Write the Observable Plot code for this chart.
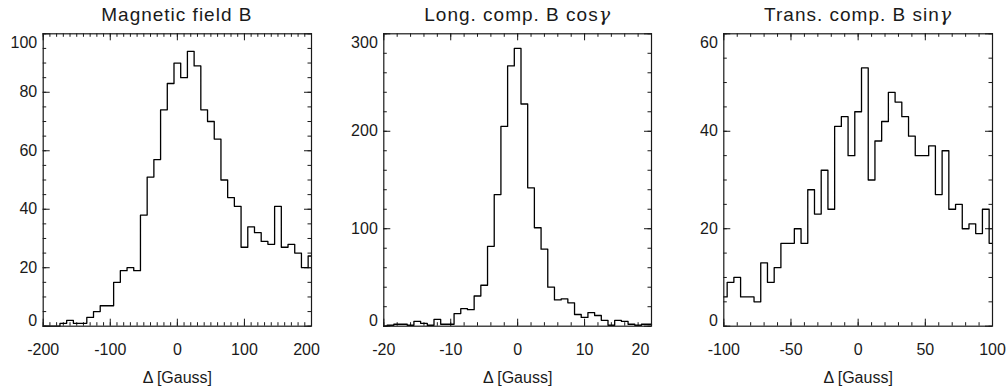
<!DOCTYPE html>
<html><head><meta charset="utf-8">
<script src="https://cdn.jsdelivr.net/npm/d3@7"></script>
<script src="https://cdn.jsdelivr.net/npm/@observablehq/plot@0.6"></script>
<style>
body{margin:0;background:#fff;}
#wrap{position:relative;width:1008px;height:389px;overflow:hidden;font-family:"Liberation Sans",Arial,Helvetica,sans-serif;color:#1a1a1a;}
.panel{position:absolute;top:0;}
.title{position:absolute;top:5px;font-size:19px;line-height:1;text-align:center;letter-spacing:1px;white-space:nowrap;}
</style></head><body><div id="wrap"></div>
<script>
// ---- Data ----
const xLabel = "Δ [Gauss]";

// Panel 1: Magnetic field B (bins of 10 G, centered on multiples of 10)
const bTitle = "Magnetic field B";
const bCenters = d3.range(-200, 201, 10);
const bCounts = [0,0,0,1,2,1,1,3,5,7,7,15,19,20,19,38,51,57,74,83,90,85,94,89,74,70,64,50,44,41,27,34,32,29,28,41,27,28,25,20,24];
const bXTicks = [-200,-100,0,100,200];
const bYTicks = [0,20,40,60,80,100];

// Panel 2: Longitudinal component (bins of 1 G)
const lTitle = "Long. comp. B cos";
const lCenters = d3.range(-20, 21, 1);
const lCounts = [0,1,2,2,1,5,3,1,7,2,2,13,18,17,31,42,82,135,205,267,285,228,142,101,79,40,27,28,24,12,9,14,11,6,1,6,5,2,1,2,2];
const lXTicks = [-20,-10,0,10,20];
const lYTicks = [0,100,200,300];

// Panel 3: Transverse component (bins of 5 G)
const tTitle = "Trans. comp. B sin";
const tCenters = d3.range(-100, 101, 5);
const tCounts = [6,9,10,6,6,5,13,9,12,17,17,20,17,28,23,32,24,41,43,35,44,53,30,38,42,48,46,43,39,35,35,37,27,36,24,25,20,21,19,24,17];
const tXTicks = [-100,-50,0,50,100];
const tYTicks = [0,20,40,60];

// ---- Layout ----
const W = 336, Hh = 389, MT = 33.3, MB = 63.3;
const ink = "#1a1a1a";
const font = '"Liberation Sans",Arial,Helvetica,sans-serif';

const panels = [
  {title: bTitle, gamma: false, centers: bCenters, counts: bCounts, xTicks: bXTicks, yTicks: bYTicks,
   xMinorStep: 10, yMinorStep: 5, left: 0, ml: 42.7, mr: 25, lastDx: -5},
  {title: lTitle, gamma: true, centers: lCenters, counts: lCounts, xTicks: lXTicks, yTicks: lYTicks,
   xMinorStep: 2, yMinorStep: 20, left: 336, ml: 47.3, mr: 21, lastDx: -11},
  {title: tTitle, gamma: true, centers: tCenters, counts: tCounts, xTicks: tXTicks, yTicks: tYTicks,
   xMinorStep: 10, yMinorStep: 5, left: 672, ml: 51.3, mr: 16, lastDx: 0}
];

const wrap = document.getElementById("wrap");
const fmt = d => String(d);

for (const p of panels) {
  const xd = [p.xTicks[0], p.xTicks[p.xTicks.length - 1]];
  const yd = [p.yTicks[0], p.yTicks[p.yTicks.length - 1]];
  const fh = Hh - MT - MB;
  const fw = W - p.ml - p.mr;
  const xMinor = d3.range(xd[0], xd[1] + 1e-9, p.xMinorStep);
  const yMinor = d3.range(yd[0], yd[1] + 1e-9, p.yMinorStep);
  const table = p.centers.map((c, i) => ({c, n: p.counts[i]}));
  const minorLen = 3.5, majorLen = 7;
  const axStyle = {tickSize: 0, fontSize: 16, label: null, fill: ink, tickFormat: fmt};
  const chart = Plot.plot({
    width: W, height: Hh,
    marginTop: MT, marginBottom: MB, marginLeft: p.ml, marginRight: p.mr,
    x: {domain: xd},
    y: {domain: yd},
    style: {fontFamily: font, color: ink, background: "transparent", overflow: "visible"},
    marks: [
      // inward ticks on all four sides
      Plot.tickX(xMinor, {x: d => d, insetTop: fh - minorLen, stroke: ink}),
      Plot.tickX(xMinor, {x: d => d, insetBottom: fh - minorLen, stroke: ink}),
      Plot.tickX(p.xTicks, {x: d => d, insetTop: fh - majorLen, stroke: ink}),
      Plot.tickX(p.xTicks, {x: d => d, insetBottom: fh - majorLen, stroke: ink}),
      Plot.tickY(yMinor, {y: d => d, insetRight: fw - minorLen, stroke: ink}),
      Plot.tickY(yMinor, {y: d => d, insetLeft: fw - minorLen, stroke: ink}),
      Plot.tickY(p.yTicks, {y: d => d, insetRight: fw - majorLen, stroke: ink}),
      Plot.tickY(p.yTicks, {y: d => d, insetLeft: fw - majorLen, stroke: ink}),
      // histogram outline
      Plot.line(table, {x: "c", y: "n", curve: "step", stroke: "#000", strokeWidth: 1.3}),
      Plot.frame({stroke: ink, strokeWidth: 1.2}),
      // tick labels
      Plot.axisX(p.xTicks.slice(0, -1), {...axStyle, tickPadding: 17}),
      Plot.axisX(p.xTicks.slice(-1), {...axStyle, tickPadding: 17, dx: p.lastDx}),
      Plot.axisY(p.yTicks.slice(1, -1), {...axStyle, tickPadding: 6}),
      Plot.axisY(p.yTicks.slice(0, 1), {...axStyle, tickPadding: 6, dy: -5}),
      Plot.axisY(p.yTicks.slice(-1), {...axStyle, tickPadding: 6, dy: 9}),
      Plot.text([xLabel], {frameAnchor: "bottom", dy: 51.5, lineAnchor: "middle", fontSize: 16, fill: ink})
    ]
  });
  chart.classList.add("panel");
  chart.style.left = p.left + "px";
  wrap.appendChild(chart);

  const t = document.createElement("div");
  t.className = "title";
  t.style.left = (p.left + p.ml) + "px";
  t.style.width = fw + "px";
  t.textContent = p.title;
  if (p.gamma) {
    const g = document.createElement("i");
    g.textContent = "γ";
    g.style.fontFamily = '"DejaVu Serif",serif';
    g.style.letterSpacing = "0";
    t.appendChild(g);
  }
  wrap.appendChild(t);
}
</script>
</body></html>
